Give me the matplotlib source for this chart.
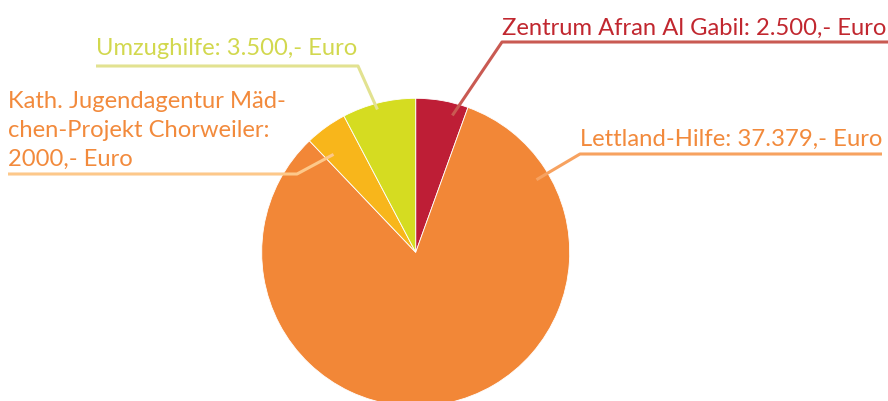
import numpy as np
import matplotlib
matplotlib.use("Agg")
import matplotlib.pyplot as plt
from matplotlib import font_manager

# Spenden (Euro), clockwise from 12 o'clock
names = ["Zentrum Afran Al Gabil", "Lettland-Hilfe",
         "Kath. Jugendagentur Mädchen-Projekt Chorweiler", "Umzughilfe"]
amounts = [2500, 37379, 2000, 3500]
label_lines = [["Zentrum Afran Al Gabil: 2.500,- Euro"],
               ["Lettland-Hilfe: 37.379,- Euro"],
               ["Kath. Jugendagentur Mäd-", "chen-Projekt Chorweiler:", "2000,- Euro"],
               ["Umzughilfe: 3.500,- Euro"]]
wedge_colors = ["#BE1E36", "#F28737", "#F8B61B", "#D5DC21"]
text_colors = ["#C1272F", "#F28A3C", "#F28A3C", "#D2D84E"]
line_colors = ["#C95A52", "#F7A260", "#FDC88A", "#E2E290"]

available = {f.name for f in font_manager.fontManager.ttflist}
family = "DejaVu Sans"
for cand in ["Liberation Sans Narrow", "Lato", "Roboto", "Liberation Sans"]:
    if cand in available:
        family = cand
        break
plt.rcParams["font.family"] = [family, "DejaVu Sans"]

W, H = 888, 401
fig = plt.figure(figsize=(W / 100, H / 100), dpi=100)
ax = fig.add_axes([0, 0, 1, 1])

cx, cy, R = 415.7, H - 252.3, 154
wedges, _ = ax.pie(amounts, colors=wedge_colors, startangle=90, counterclock=False,
                   center=(cx, cy), radius=R, frame=True,
                   wedgeprops=dict(linewidth=0.6, edgecolor="white"))
ax.set_xlim(0, W)
ax.set_ylim(0, H)
ax.set_aspect("equal")
ax.axis("off")

# leader layout: (angle deg, radius frac, elbow xy, line end x, text x, first baseline y, target width)
layout = [
    (75, 0.92, (502, H - 42), 888, 502, H - 35, 383),
    (31, 0.915, (580, H - 154), 882, 580, H - 146, 302),
    (130, 0.83, (297, H - 174), 8, 8, H - 108, 277),
    (105, 0.96, (358, H - 66), 96, 96, H - 55, 260),
]
line_step = 29
renderer = fig.canvas.get_renderer()
fs0 = 18
for i, (ang, rf, elbow, xend, tx, ty, tw) in enumerate(layout):
    a = np.deg2rad(ang)
    x0, y0 = cx + rf * R * np.cos(a), cy + rf * R * np.sin(a)
    ax.plot([x0, elbow[0], xend], [y0, elbow[1], elbow[1]],
            color=line_colors[i], lw=2.2, solid_capstyle="butt", zorder=5)
    texts = []
    for k, line in enumerate(label_lines[i]):
        t = ax.text(tx, ty - k * line_step, line, color=text_colors[i], fontsize=fs0,
                    ha="left", va="baseline", zorder=6)
        texts.append(t)
    # fit the first line to the width seen in the original
    w = texts[0].get_window_extent(renderer).width
    for t in texts:
        t.set_fontsize(fs0 * tw / w)

fig.savefig("out.png", dpi=100)
